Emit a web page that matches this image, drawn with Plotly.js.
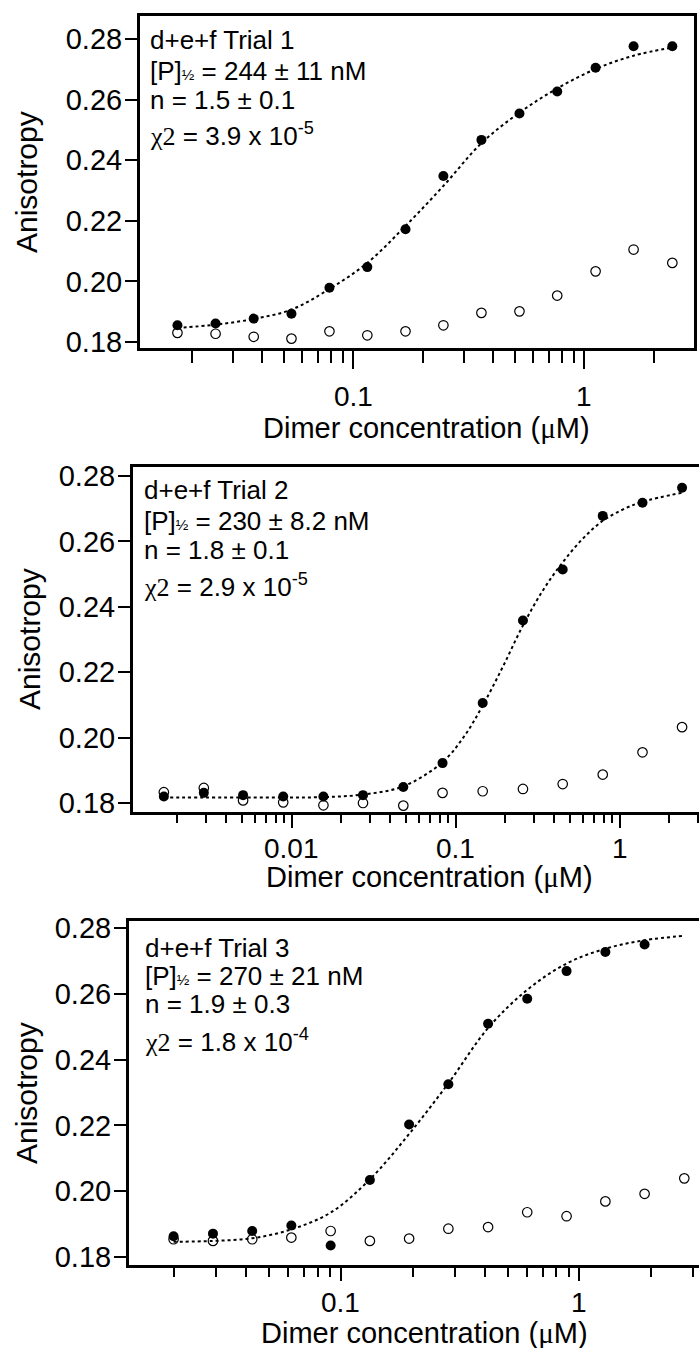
<!DOCTYPE html>
<html><head><meta charset="utf-8">
<script src="https://cdn.plot.ly/plotly-3.0.1.min.js"></script>
<style>html,body{margin:0;padding:0;background:#fff;} #chart{width:699px;height:1348px;}</style>
</head><body><div id="chart"></div>
<script>
// ---------- data ----------
// Panel 1 : d+e+f Trial 1
const p1Conc   = [0.0173, 0.0253, 0.0370, 0.0539, 0.0787, 0.1148, 0.168, 0.245, 0.358, 0.523, 0.762, 1.117, 1.631, 2.40];
const p1Filled = [0.1855, 0.1861, 0.1877, 0.1893, 0.1979, 0.2047, 0.2172, 0.2348, 0.2467, 0.2554, 0.2627, 0.2705, 0.2776, 0.2776];
const p1Open   = [0.1830, 0.1827, 0.1817, 0.1811, 0.1835, 0.1822, 0.1835, 0.1855, 0.1896, 0.1901, 0.1953, 0.2033, 0.2105, 0.2061];
const p1FitX   = [0.0173, 0.0253, 0.0370, 0.0539, 0.0787, 0.1148, 0.168, 0.245, 0.358, 0.523, 0.762, 1.117, 1.631, 2.40];
const p1FitY   = [0.1846, 0.1857, 0.1876, 0.1907, 0.1975, 0.2061, 0.2183, 0.2315, 0.2456, 0.2557, 0.2637, 0.2701, 0.2745, 0.2772];

// Panel 2 : d+e+f Trial 2
const p2Conc   = [0.00166, 0.00291, 0.00505, 0.00887, 0.0156, 0.0272, 0.0479, 0.0831, 0.146, 0.257, 0.449, 0.788, 1.377, 2.40];
const p2Filled = [0.1820, 0.1831, 0.1824, 0.1820, 0.1820, 0.1824, 0.1849, 0.1922, 0.2106, 0.2358, 0.2514, 0.2678, 0.2718, 0.2764];
const p2Open   = [0.1833, 0.1846, 0.1808, 0.1802, 0.1793, 0.1800, 0.1792, 0.1831, 0.1836, 0.1843, 0.1858, 0.1887, 0.1955, 0.2032];
const p2FitX   = [0.00166, 0.00505, 0.0156, 0.0272, 0.0479, 0.0831, 0.113, 0.146, 0.194, 0.257, 0.34, 0.449, 0.60, 0.788, 1.05, 1.377, 2.40];
const p2FitY   = [0.1817, 0.1817, 0.1818, 0.1826, 0.1851, 0.1925, 0.2005, 0.2098, 0.2217, 0.2343, 0.2450, 0.2536, 0.2610, 0.2663, 0.2698, 0.2721, 0.2749];

// Panel 3 : d+e+f Trial 3
const p3Conc   = [0.0199, 0.0291, 0.0425, 0.0620, 0.0906, 0.1323, 0.1932, 0.2822, 0.414, 0.604, 0.883, 1.284, 1.875, 2.75];
const p3Filled = [0.1863, 0.1871, 0.1879, 0.1896, 0.1835, 0.2034, 0.2203, 0.2325, 0.2509, 0.2585, 0.2669, 0.2727, 0.2750];
const p3Open   = [0.1854, 0.1849, 0.1854, 0.1859, 0.1879, 0.1849, 0.1856, 0.1886, 0.1891, 0.1936, 0.1924, 0.1969, 0.1992, 0.2039];
const p3FitY   = [0.1846, 0.1849, 0.1857, 0.1884, 0.1935, 0.2036, 0.2174, 0.2328, 0.2496, 0.2612, 0.2692, 0.2737, 0.2763, 0.2776];

// ---------- tick labels ----------
const yTickVals  = [0.18, 0.20, 0.22, 0.24, 0.26, 0.28];
const yTickText  = ['0.18', '0.20', '0.22', '0.24', '0.26', '0.28'];
const x1TickVals = [0.1, 1];
const x1TickText = ['0.1', '1'];
const x2TickVals = [0.01, 0.1, 1];
const x2TickText = ['0.01', '0.1', '1'];
const x3TickVals = [0.1, 1];
const x3TickText = ['0.1', '1'];
const minor1 = [0.02,0.03,0.04,0.05,0.06,0.07,0.08,0.09,0.2,0.3,0.4,0.5,0.6,0.7,0.8,0.9,2];
const minor2 = [0.002,0.003,0.004,0.005,0.006,0.007,0.008,0.009,0.02,0.03,0.04,0.05,0.06,0.07,0.08,0.09,0.2,0.3,0.4,0.5,0.6,0.7,0.8,0.9,2,3];
const minor3 = [0.02,0.03,0.04,0.05,0.06,0.07,0.08,0.09,0.2,0.3,0.4,0.5,0.6,0.7,0.8,0.9,2,3];

const panelText = [
  ['d+e+f Trial 1', '244 ± 11 nM', 'n = 1.5 ± 0.1', '3.9 x 10', '-5'],
  ['d+e+f Trial 2', '230 ± 8.2 nM', 'n = 1.8 ± 0.1', '2.9 x 10', '-5'],
  ['d+e+f Trial 3', '270 ± 21 nM', 'n = 1.9 ± 0.3', '1.8 x 10', '-4']
];

// ---------- layout helpers ----------
const W = 699, H = 1348;
const FONT = 'Liberation Sans, Arial, sans-serif';
const SERIF = 'Liberation Serif, Times New Roman, serif';
const fx = p => p / W;
const fy = p => 1 - p / H;

function xAxis(domL, domR, range, tv, minorVals, majLen, minLen, anchor) {
  return {
    type: 'log', domain: [fx(domL), fx(domR)], range: range, anchor: anchor,
    showline: true, linewidth: 3, linecolor: '#000', mirror: true,
    showgrid: false, zeroline: false,
    ticks: 'outside', ticklen: majLen, tickwidth: 2, tickcolor: '#000',
    tickmode: 'array', tickvals: tv, showticklabels: false,
    minor: {ticks: 'outside', ticklen: minLen, tickwidth: 2, tickcolor: '#000',
            tickmode: 'array', tickvals: minorVals, showgrid: false}
  };
}
function yAxis(top, bottom, range, mirror, anchor) {
  return {
    domain: [fy(bottom), fy(top)], range: range, anchor: anchor,
    showline: true, linewidth: 3, linecolor: '#000', mirror: mirror,
    showgrid: false, zeroline: false,
    ticks: 'outside', ticklen: 12, tickwidth: 2, tickcolor: '#000',
    tickmode: 'array', tickvals: yTickVals, ticktext: yTickText, ticklabelstandoff: -3,
    tickfont: {family: FONT, size: 29, color: '#000'}
  };
}

function traces(conc, filled, open, fitX, fitY, xa, ya) {
  return [
    {x: conc.slice(0, open.length), y: open, xaxis: xa, yaxis: ya, type: 'scatter', mode: 'markers',
     marker: {symbol: 'circle', size: 9.5, color: '#fff', line: {color: '#000', width: 1.2}}, hoverinfo: 'skip'},
    {x: fitX, y: fitY, xaxis: xa, yaxis: ya, type: 'scatter', mode: 'lines',
     line: {color: '#000', width: 2, dash: 'dot', shape: 'spline'}, hoverinfo: 'skip'},
    {x: conc.slice(0, filled.length), y: filled, xaxis: xa, yaxis: ya, type: 'scatter', mode: 'markers',
     marker: {symbol: 'circle', size: 10, color: '#000'}, hoverinfo: 'skip'}
  ];
}

const data = [].concat(
  traces(p1Conc, p1Filled, p1Open, p1FitX, p1FitY, 'x', 'y'),
  traces(p2Conc, p2Filled, p2Open, p2FitX, p2FitY, 'x2', 'y2'),
  traces(p3Conc, p3Filled, p3Open, p3Conc, p3FitY, 'x3', 'y3')
);

function ann(px, py, text, size, xanchor, extra) {
  return Object.assign({xref: 'paper', yref: 'paper', x: fx(px), y: fy(py), text: text,
    showarrow: false, xanchor: xanchor, yanchor: 'middle',
    font: {family: FONT, size: size, color: '#000'}}, extra || {});
}

const annLeft = [148, 142, 143];
const annY = [[39.5, 71, 100, 134], [490, 521, 550, 585], [948, 976, 1004, 1040]];
const ytitle = [[27, 182], [29, 639], [26, 1093]];
const xtitle = [[426, 428], [429, 877], [424, 1333]];
const xLabelY = [396, 848, 1302];
const xTicks = [[x1TickVals, x1TickText, 'x'], [x2TickVals, x2TickText, 'x2'], [x3TickVals, x3TickText, 'x3']];

const annotations = [];
for (let i = 0; i < 3; i++) {
  const t = panelText[i];
  const L = annLeft[i];
  annotations.push(ann(L, annY[i][0], t[0], 26, 'left'));
  annotations.push(ann(L, annY[i][1], '[P]<span style="font-size:15px">½</span> = ' + t[1], 26, 'left'));
  annotations.push(ann(L, annY[i][2], t[2], 26, 'left'));
  annotations.push(ann(L, annY[i][3], '<span style="font-family:' + SERIF + '">χ2</span> = ' + t[3] + '<sup>' + t[4] + '</sup>', 26, 'left'));
  annotations.push(ann(ytitle[i][0], ytitle[i][1], 'Anisotropy', 30, 'center', {textangle: -90}));
  annotations.push(ann(xtitle[i][0], xtitle[i][1], 'Dimer concentration (<span style="font-family:' + SERIF + '">μ</span>M)', 29, 'center'));
  // x tick labels, placed at the tick values on the log axis
  const [vals, texts, xr] = xTicks[i];
  vals.forEach((v, k) => {
    annotations.push({xref: xr, yref: 'paper', x: Math.log10(v), y: fy(xLabelY[i]), text: texts[k],
      showarrow: false, xanchor: 'center', yanchor: 'middle',
      font: {family: FONT, size: 28, color: '#000'}});
  });
}

const layout = {
  width: W, height: H, margin: {l: 0, r: 0, t: 0, b: 0},
  paper_bgcolor: '#fff', plot_bgcolor: '#fff', showlegend: false,
  xaxis:  xAxis(140, 694, [-1.924, 0.474], x1TickVals, minor1, 18, 12, 'y'),
  yaxis:  yAxis(16, 348, [0.1780, 0.2876], true, 'x'),
  xaxis2: xAxis(133, 699, [-2.968, 0.4835], x2TickVals, minor2, 13, 8, 'y2'),
  yaxis2: yAxis(467, 812, [0.17725, 0.28275], false, 'x2'),
  xaxis3: xAxis(129, 699, [-1.888, 0.501], x3TickVals, minor3, 13, 9, 'y3'),
  yaxis3: yAxis(921, 1265, [0.17757, 0.28213], false, 'x3'),
  annotations: annotations
};

Plotly.newPlot('chart', data, layout, {staticPlot: true, displayModeBar: false});
</script></body></html>
